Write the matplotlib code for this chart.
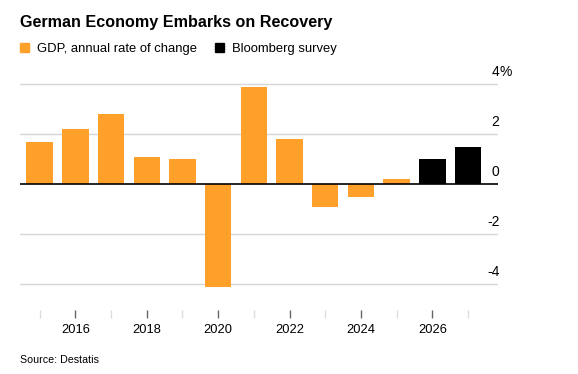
#!/usr/bin/env python3
"""German GDP annual change, with Bloomberg survey forecasts."""

import matplotlib
matplotlib.use("Agg")
import matplotlib.pyplot as plt
from matplotlib.patches import Patch
from matplotlib.transforms import offset_copy

# data
years = [2015, 2016, 2017, 2018, 2019, 2020, 2021, 2022, 2023, 2024, 2025]
gdp = [1.7, 2.2, 2.8, 1.1, 1.0, -4.1, 3.9, 1.8, -0.9, -0.5, 0.2]
survey_years = [2026, 2027]
survey = [1.0, 1.5]
yticks = [-4, -2, 0, 2, 4]
ytick_labels = ["-4", "-2", "0", "2", "4"]
xticks_major = [2016, 2018, 2020, 2022, 2024, 2026]
xticks_minor = [2015, 2017, 2019, 2021, 2023, 2025, 2027]

ORANGE = "#ffa02b"
BLACK = "#000000"
GRID = "#d6d6d6"

plt.rcParams["font.family"] = ["Liberation Sans", "DejaVu Sans"]

fig = plt.figure(figsize=(5.78, 3.74), dpi=100)
W, H = 578, 374
# axes placed in pixel terms: left 20, right 498, top 69, bottom 310
ax = fig.add_axes([20 / W, (H - 310) / H, (498 - 20) / W, (310 - 69) / H])

ax.bar(years, gdp, width=0.74, color=ORANGE, zorder=2)
ax.bar(survey_years, survey, width=0.74, color=BLACK, zorder=2)

ax.set_xlim(2014.45, 2027.84)
ax.set_ylim(-5.04, 4.6)

for s in ax.spines.values():
    s.set_visible(False)

# gridlines and zero line
for v in yticks:
    if v == 0:
        ax.axhline(v, color="black", lw=1.2, zorder=3)
    else:
        ax.axhline(v, color=GRID, lw=1.0, zorder=1)

# y tick labels on the right, sitting above the gridlines
ax.yaxis.tick_right()
ax.set_yticks(yticks, ytick_labels)
ax.tick_params(axis="y", length=0, pad=1, labelsize=10)
for lab in ax.get_yticklabels():
    lab.set_ha("right")
    lab.set_va("bottom")
    lab.set_transform(offset_copy(lab.get_transform(), fig=fig, x=0, y=5, units="dots"))
ax.text(1.0, yticks[-1], "%", fontsize=10, ha="left", va="bottom",
        transform=offset_copy(ax.get_yaxis_transform(), fig=fig, x=1, y=5, units="dots"))

# x ticks: labelled even years, faint odd years
ax.set_xticks(xticks_major, [str(y) for y in xticks_major])
ax.set_xticks(xticks_minor, minor=True)
ax.tick_params(axis="x", which="major", length=6, width=1, color="#666666",
               labelsize=9.3, pad=4)
ax.tick_params(axis="x", which="minor", length=6, width=1, color="#dddddd")

fig.text(20 / W, 1 - 22 / H, "German Economy Embarks on Recovery",
         fontsize=11.6, fontweight="bold", ha="left", va="center")

handles = [Patch(color=ORANGE, label="GDP, annual rate of change"),
           Patch(color=BLACK, label="Bloomberg survey")]
fig.legend(handles=handles, loc="center left", bbox_to_anchor=(15 / W, 1 - 49 / H),
           ncol=2, frameon=False, fontsize=9.4, handlelength=0.65, handleheight=0.65,
           handletextpad=0.65, columnspacing=1.4, borderaxespad=0)

fig.text(20 / W, 1 - 360 / H, "Source: Destatis", fontsize=7.7, ha="left", va="center")

fig.savefig("out.png", dpi=100)
